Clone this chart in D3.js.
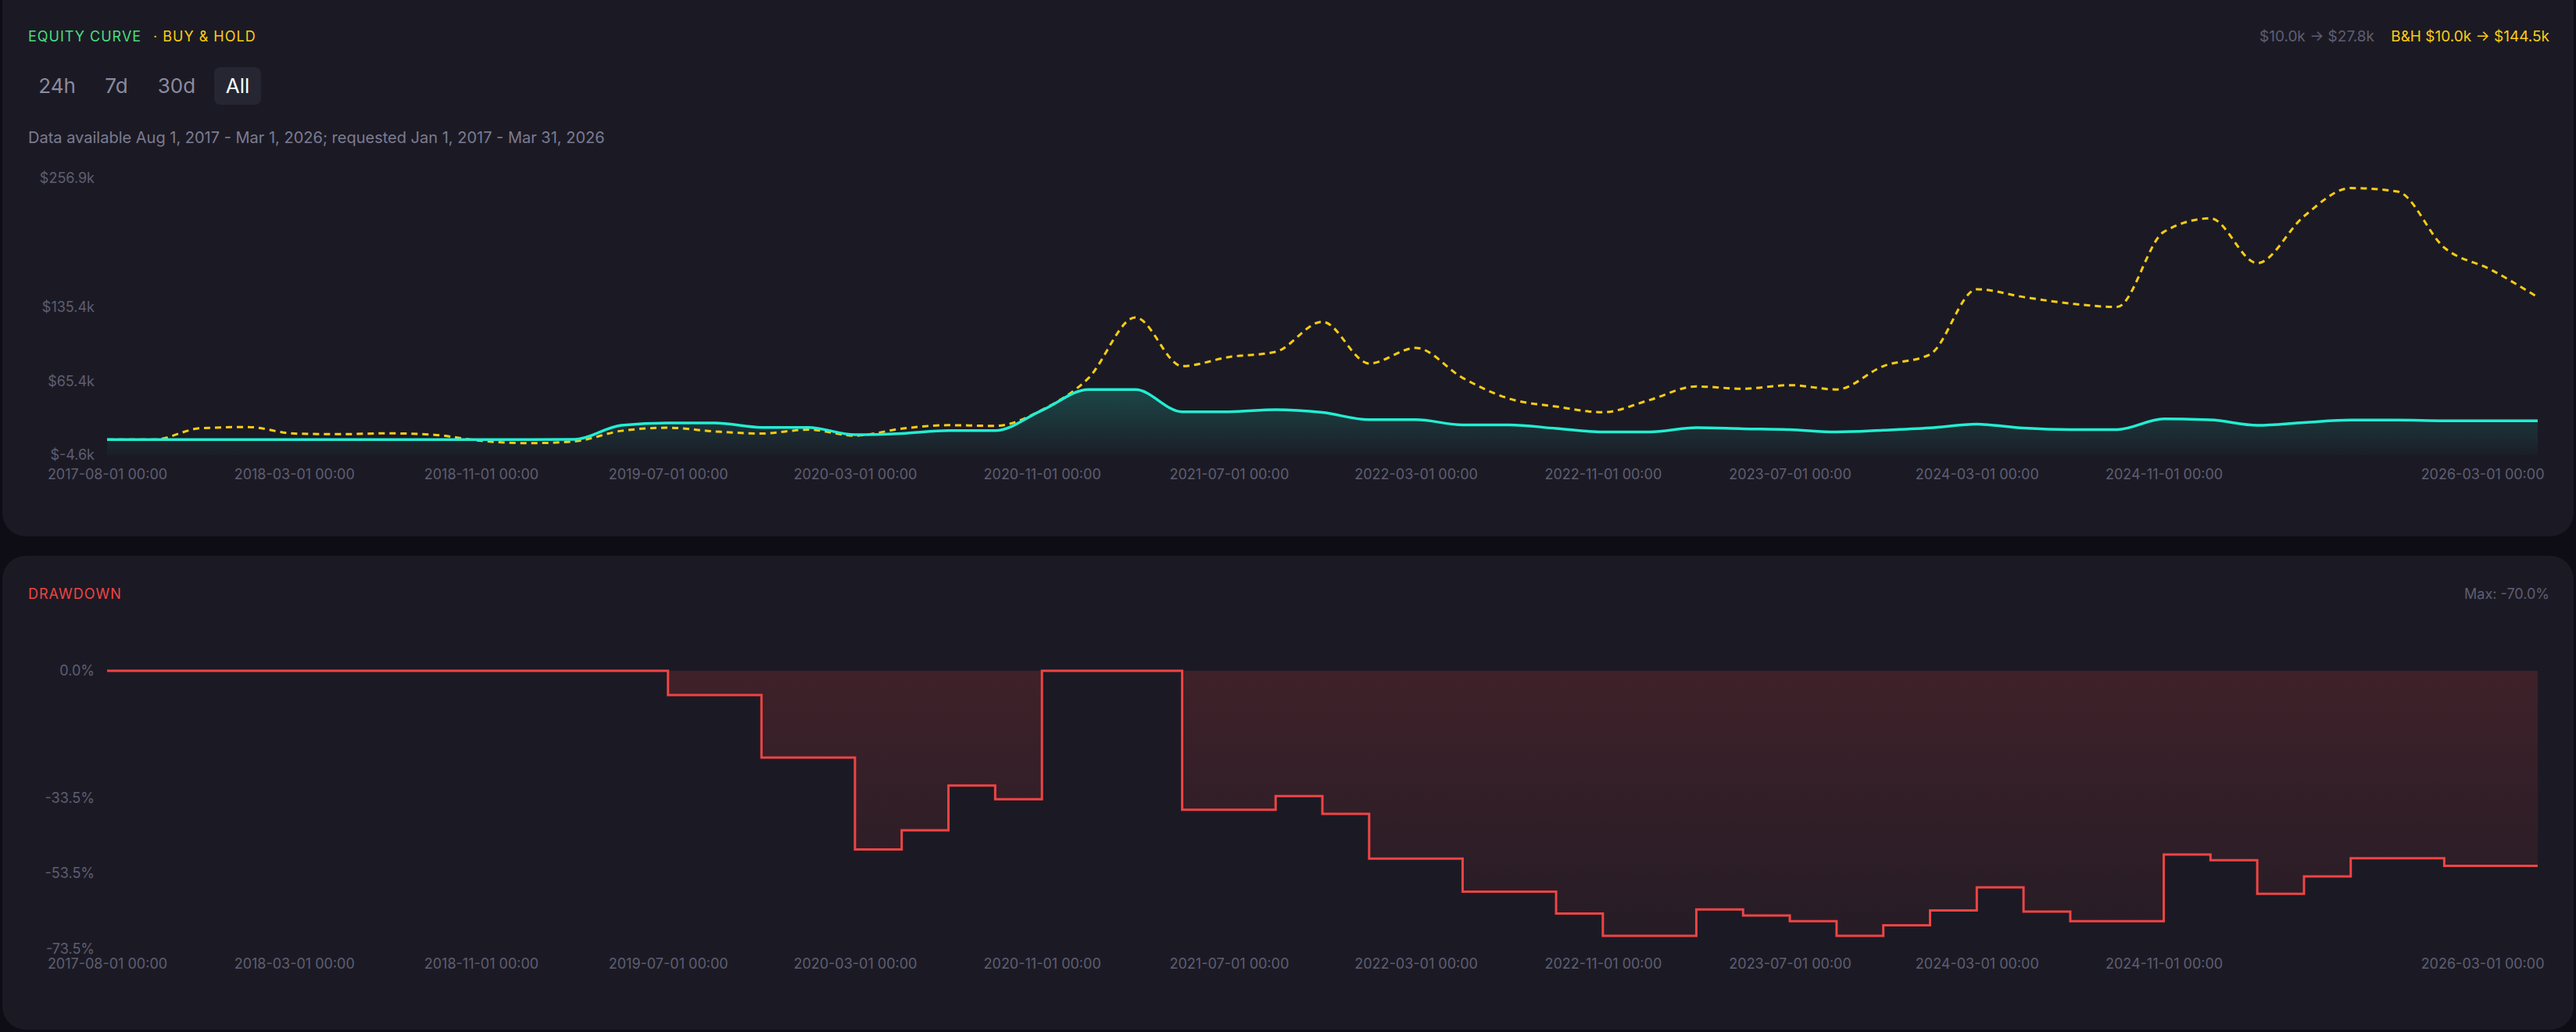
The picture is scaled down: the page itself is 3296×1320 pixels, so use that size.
<!DOCTYPE html>
<html>
<head>
<meta charset="utf-8">
<script src="https://cdn.jsdelivr.net/npm/d3@7"></script>
<style>
  body { margin: 0; background: #0e0d16; font-family: Inter, "Noto Sans", sans-serif; }
  svg { display: block; }
</style>
</head>
<body>
<svg id="chart" width="3296" height="1320"></svg>
<script>
(function () {
    'use strict';

    // bi-monthly samples, index 0 = 2017-08-01
    var equity = [10.0, 10.0, 10.0, 10.0, 10.0, 10.0, 10.0, 10.0, 10.0, 10.0,
                  10.2, 23.5, 25.7, 25.7, 21.5, 21.5, 14.6, 15.8, 18.5, 18.5,
                  37.6, 57.2, 57.2, 36.2, 36.2, 38.3, 35.6, 28.8, 28.8, 23.9,
                  23.9, 20.5, 17.2, 17.2, 21.2, 20.2, 19.4, 17.2, 18.8, 21.0,
                  24.5, 20.8, 19.4, 19.4, 29.5, 28.6, 23.5, 26.1, 28.4, 28.4,
                  27.8, 27.8, 27.8];
    var hold = [10.0, 10.0, 20.7, 21.9, 15.7, 15.1, 15.9, 14.5, 8.8, 6.6,
                8.3, 18.2, 21.2, 17.7, 15.7, 19.4, 13.7, 20.3, 23.6, 22.9,
                38.0, 68.3, 125.4, 79.4, 88.0, 92.9, 121.3, 81.9, 96.6, 68.3,
                48.6, 41.2, 35.8, 47.4, 60.2, 58.0, 61.4, 57.3, 79.4, 90.5,
                152.0, 144.7, 138.5, 135.3, 206.2, 219.0, 176.7, 221.0, 247.6, 244.4,
                191.4, 170.5, 144.5];
    var drawdown = [0, 0, 0, 0, 0, 0, 0, 0, 0, 0,
                    0, 0, -6.4, -6.4, -22.9, -22.9, -47.2, -42.1, -30.3, -33.9,
                    0, 0, 0, -36.7, -36.7, -33.1, -37.8, -49.6, -49.6, -58.3,
                    -58.3, -64.1, -70.0, -70.0, -63.0, -64.6, -66.1, -70.0, -67.2, -63.3,
                    -57.2, -63.6, -66.1, -66.1, -48.5, -50.0, -58.9, -54.3, -49.5, -49.5,
                    -51.5, -51.5, -51.5];

    var tickLabels = {
        0: '2017-08-01 00:00', 4: '2018-03-01 00:00', 8: '2018-11-01 00:00',
        12: '2019-07-01 00:00', 16: '2020-03-01 00:00', 20: '2020-11-01 00:00',
        24: '2021-07-01 00:00', 28: '2022-03-01 00:00', 32: '2022-11-01 00:00',
        36: '2023-07-01 00:00', 40: '2024-03-01 00:00', 44: '2024-11-01 00:00',
        52: '2026-03-01 00:00'
    };

    var svg = d3.select('#chart');
    var defs = svg.append('defs');
    var muted = '#5f5e72';

    var g1 = defs.append('linearGradient').attr('id', 'eqFill')
        .attr('x1', 0).attr('y1', 0).attr('x2', 0).attr('y2', 1);
    g1.append('stop').attr('offset', '0%').attr('stop-color', '#1de9c8').attr('stop-opacity', 0.22);
    g1.append('stop').attr('offset', '100%').attr('stop-color', '#1de9c8').attr('stop-opacity', 0.02);
    var g2 = defs.append('linearGradient').attr('id', 'ddFill')
        .attr('x1', 0).attr('y1', 0).attr('x2', 0).attr('y2', 1);
    g2.append('stop').attr('offset', '0%').attr('stop-color', '#ef4444').attr('stop-opacity', 0.17);
    g2.append('stop').attr('offset', '100%').attr('stop-color', '#ef4444').attr('stop-opacity', 0.05);

    // panels
    svg.append('rect').attr('x', 3).attr('y', -30).attr('width', 3290).attr('height', 716)
       .attr('rx', 30).attr('fill', '#1b1a24');
    svg.append('rect').attr('x', 3).attr('y', 711).attr('width', 3290).attr('height', 606)
       .attr('rx', 30).attr('fill', '#1b1a24');

    function text(x, y, str, size, color, anchor, spacing) {
        return svg.append('text').attr('x', x).attr('y', y).text(str)
            .attr('font-size', size).attr('fill', color)
            .attr('text-anchor', anchor || 'start')
            .attr('letter-spacing', spacing || 0);
    }

    // header texts
    text(36, 53, 'EQUITY CURVE', 18, '#4ade80', 'start', 1);
    text(196, 53, '· BUY & HOLD', 18, '#facc15', 'start', 1);
    text(3262, 53, 'B&H $10.0k → $144.5k', 19, '#facc15', 'end');
    text(3038, 53, '$10.0k → $27.8k', 19, muted, 'end');

    svg.append('rect').attr('x', 274).attr('y', 86).attr('width', 60).attr('height', 48)
       .attr('rx', 8).attr('fill', '#262633');
    text(73, 119, '24h', 26, '#8b8aa0', 'middle');
    text(149, 119, '7d', 26, '#8b8aa0', 'middle');
    text(226, 119, '30d', 26, '#8b8aa0', 'middle');
    text(304, 119, 'All', 26, '#ffffff', 'middle');
    text(36, 183, 'Data available Aug 1, 2017 - Mar 1, 2026; requested Jan 1, 2017 - Mar 31, 2026', 20, '#7c7b91');

    var x = d3.scaleLinear().domain([0, equity.length - 1]).range([137, 3247]);
    var lastIdx = equity.length - 1;

    function xAxis(y) {
        var ax = svg.append('g').attr('transform', 'translate(0,' + y + ')')
            .call(d3.axisBottom(x).tickValues(Object.keys(tickLabels).map(Number))
                .tickSize(0).tickPadding(0)
                .tickFormat(function (d) { return tickLabels[d]; }));
        ax.select('.domain').remove();
        ax.selectAll('text').attr('fill', muted).attr('font-size', 18)
          .attr('font-family', 'Inter, sans-serif')
          .attr('text-anchor', function (d) { return d === lastIdx ? 'end' : 'middle'; })
          .attr('dx', function (d) { return d === lastIdx ? 8 : 0; });
    }

    // equity chart
    var y = d3.scaleLinear().domain([-4.6, 256.9]).range([582, 228]);
    var yAx = svg.append('g').attr('transform', 'translate(121,0)')
        .call(d3.axisLeft(y).tickValues([-4.6, 65.4, 135.4, 256.9]).tickSize(0).tickPadding(0)
            .tickFormat(function (d) { return '$' + d.toFixed(1) + 'k'; }));
    yAx.select('.domain').remove();
    yAx.selectAll('text').attr('fill', muted).attr('font-size', 18)
       .attr('font-family', 'Inter, sans-serif');
    xAxis(600);

    var idx = d3.range(equity.length);
    svg.append('path').datum(idx)
       .attr('d', d3.area().x(function (i) { return x(i); }).y0(582)
           .y1(function (i) { return y(equity[i]); }).curve(d3.curveMonotoneX))
       .attr('fill', 'url(#eqFill)');
    svg.append('path').datum(idx)
       .attr('d', d3.line().x(function (i) { return x(i); })
           .y(function (i) { return y(hold[i]); }).curve(d3.curveMonotoneX))
       .attr('fill', 'none').attr('stroke', '#facc15').attr('stroke-width', 3)
       .attr('stroke-dasharray', '8,6');
    svg.append('path').datum(idx)
       .attr('d', d3.line().x(function (i) { return x(i); })
           .y(function (i) { return y(equity[i]); }).curve(d3.curveMonotoneX))
       .attr('fill', 'none').attr('stroke', '#22eed2').attr('stroke-width', 3.5);

    // drawdown chart
    text(36, 766, 'DRAWDOWN', 18, '#ef4444', 'start', 1);
    text(3262, 766, 'Max: -70.0%', 18, muted, 'end');

    var yd = d3.scaleLinear().domain([-73.5, 0]).range([1214, 858]);
    var ydAx = svg.append('g').attr('transform', 'translate(121,0)')
        .call(d3.axisLeft(yd).tickValues([0, -33.5, -53.5, -73.5]).tickSize(0).tickPadding(0)
            .tickFormat(function (d) { return d.toFixed(1) + '%'; }));
    ydAx.select('.domain').remove();
    ydAx.selectAll('text').attr('fill', muted).attr('font-size', 18)
        .attr('font-family', 'Inter, sans-serif');
    xAxis(1226);

    svg.append('path').datum(idx)
       .attr('d', d3.area().x(function (i) { return x(i); }).y0(yd(0))
           .y1(function (i) { return yd(drawdown[i]); }).curve(d3.curveStepAfter))
       .attr('fill', 'url(#ddFill)');
    svg.append('path').datum(idx)
       .attr('d', d3.line().x(function (i) { return x(i); })
           .y(function (i) { return yd(drawdown[i]); }).curve(d3.curveStepAfter))
       .attr('fill', 'none').attr('stroke', '#ef4444').attr('stroke-width', 3);
})();
</script>
</body>
</html>
